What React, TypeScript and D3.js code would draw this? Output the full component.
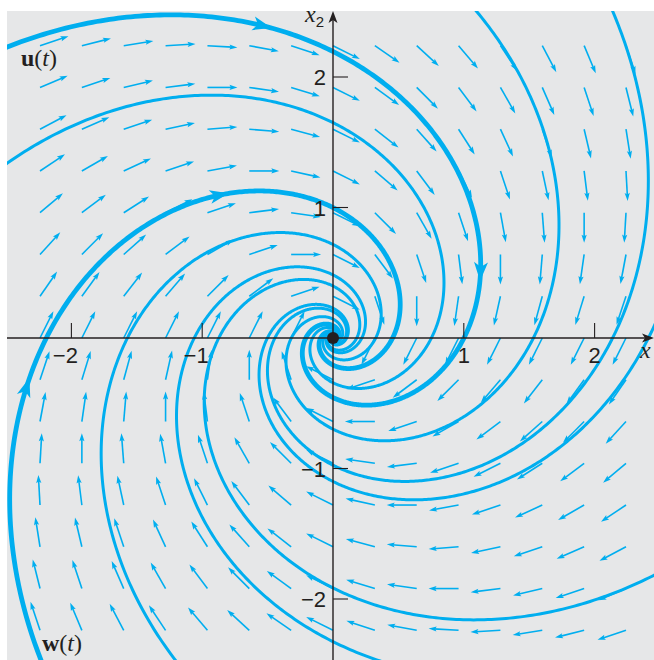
import React from "react";
import * as d3 from "d3";

const WIDTH = 654;
const HEIGHT = 660;

// linear system x' = A x  (spiral sink, clockwise)
const matrixA = [
  [-0.5, 1],
  [-1, -0.5],
];

// direction-field grid (both axes)
const fieldGrid = [-2.24, -1.92, -1.6, -1.28, -0.96, -0.64, -0.32, 0, 0.32, 0.64, 0.96, 1.28, 1.6, 1.92, 2.24];

// trajectories: initial points where they enter the window
const trajectoryNames = ["u", "t2", "w", "t4", "t5", "t5b", "t6", "t7", "t8"];
const trajectoryStartX1 = [-2.49, -2.49, -2.23, 1.1, 2.14, 2.45, 2.45, 0.36, -1.2];
const trajectoryStartX2 = [2.23, 1.34, -2.475, 2.5, 2.5, 0.08, -1.82, -2.475, -2.475];
const trajectoryBold = [true, false, true, false, false, false, false, false, false];

// arrowheads placed on the labelled trajectories (nearest point to these data positions)
const arrowTrajectory = ["u", "u", "w", "w"];
const arrowNearX1 = [-0.52, 1.12, -2.33, -0.86];
const arrowNearX2 = [2.4, 0.5, -0.38, 1.11];

const xTicks = [-2, -1, 1, 2];
const yTicks = [-2, -1, 1, 2];
const tickText = ["\u22122", "\u22121", "1", "2"];

const CYAN = "#00aeef";
const INK = "#231f20";

const xScale = d3.scaleLinear().domain([-2.5, 2.5]).range([6, 660]);
const yScale = d3.scaleLinear().domain([-2.5, 2.5]).range([664.25, 11.75]);

const lam = matrixA[0][0];
const om = matrixA[0][1];

function solve(x1: number, x2: number, t: number): [number, number] {
  const e = Math.exp(lam * t);
  const c = Math.cos(om * t);
  const s = Math.sin(om * t);
  return [e * (c * x1 + s * x2), e * (-s * x1 + c * x2)];
}

function field(x1: number, x2: number): [number, number] {
  return [matrixA[0][0] * x1 + matrixA[0][1] * x2, matrixA[1][0] * x1 + matrixA[1][1] * x2];
}

const tValues = d3.range(-0.3, 16, 0.01);

function trajectoryPoints(i: number): [number, number][] {
  return tValues.map((t) => solve(trajectoryStartX1[i], trajectoryStartX2[i], t));
}

const line = d3
  .line<[number, number]>()
  .x((d) => xScale(d[0]))
  .y((d) => yScale(d[1]))
  .curve(d3.curveLinear);

function arrowPath(tipX: number, tipY: number, dx: number, dy: number, len: number, half: number, notch: number) {
  const px = -dy;
  const py = dx;
  const bx = tipX - dx * len;
  const by = tipY - dy * len;
  const nx = tipX - dx * (len - notch);
  const ny = tipY - dy * (len - notch);
  return `M${tipX},${tipY}L${bx + px * half},${by + py * half}L${nx},${ny}L${bx - px * half},${by - py * half}Z`;
}

export default function App() {
  const fieldArrows: JSX.Element[] = [];
  const L = 30;
  fieldGrid.forEach((gx, i) =>
    fieldGrid.forEach((gy, j) => {
      if (gx === 0 && gy === 0) return;
      const [vx, vy] = field(gx, gy);
      let dx = vx;
      let dy = -vy;
      const n = Math.hypot(dx, dy);
      dx /= n;
      dy /= n;
      const x0 = xScale(gx);
      const y0 = yScale(gy);
      const tx = x0 + dx * L;
      const ty = y0 + dy * L;
      fieldArrows.push(
        <g key={`f${i}-${j}`}>
          <line x1={x0} y1={y0} x2={tx - dx * 5} y2={ty - dy * 5} stroke={CYAN} strokeWidth={1.6} />
          <path d={arrowPath(tx, ty, dx, dy, 8, 2.6, 1.5)} fill={CYAN} />
        </g>
      );
    })
  );

  const trajPts = trajectoryNames.map((_, i) => trajectoryPoints(i));

  const trajArrows = arrowTrajectory.map((name, k) => {
    const i = trajectoryNames.indexOf(name);
    const pts = trajPts[i];
    let best = 0;
    let bestD = Infinity;
    pts.forEach((p, idx) => {
      const d = Math.hypot(p[0] - arrowNearX1[k], p[1] - arrowNearX2[k]);
      if (d < bestD) {
        bestD = d;
        best = idx;
      }
    });
    const p = pts[best];
    const q = pts[Math.min(best + 1, pts.length - 1)];
    let dx = xScale(q[0]) - xScale(p[0]);
    let dy = yScale(q[1]) - yScale(p[1]);
    const n = Math.hypot(dx, dy);
    dx /= n;
    dy /= n;
    const tipX = xScale(p[0]) + dx * 9;
    const tipY = yScale(p[1]) + dy * 9;
    return <path key={`ta${k}`} d={arrowPath(tipX, tipY, dx, dy, 19, 7, 5)} fill={CYAN} />;
  });

  const x0 = xScale(0);
  const y0 = yScale(0);

  return (
    <svg
      width={WIDTH}
      height={HEIGHT}
      style={{ position: "absolute", left: 0, top: 0, display: "block" }}
      xmlns="http://www.w3.org/2000/svg"
    >
      <defs>
        <clipPath id="plotClip">
          <rect x={7} y={11} width={647} height={649} />
        </clipPath>
      </defs>
      <rect x={0} y={0} width={WIDTH} height={HEIGHT} fill="#ffffff" />
      <rect x={7} y={11} width={647} height={649} fill="#e6e7e8" />
      <g clipPath="url(#plotClip)">
        {fieldArrows}
        {trajPts.map((pts, i) => (
          <path
            key={`t${i}`}
            d={line(pts) || ""}
            fill="none"
            stroke={CYAN}
            strokeWidth={trajectoryBold[i] ? 4.8 : 3}
            strokeLinejoin="round"
            strokeLinecap="round"
          />
        ))}
        {trajArrows}
      </g>
      {/* axes */}
      <line x1={7} y1={y0} x2={646} y2={y0} stroke={INK} strokeWidth={1.4} />
      <path d={`M654,${y0}L642,${y0 - 4.5}L645,${y0}L642,${y0 + 4.5}Z`} fill={INK} />
      <line x1={x0} y1={660} x2={x0} y2={20} stroke={INK} strokeWidth={1.4} />
      <path d={`M${x0},11L${x0 - 4.5},23L${x0},20L${x0 + 4.5},23Z`} fill={INK} />
      {xTicks.map((v) => (
        <line key={`xt${v}`} x1={xScale(v)} x2={xScale(v)} y1={y0} y2={y0 - 15} stroke={INK} strokeWidth={1.1} />
      ))}
      {yTicks.map((v) => (
        <line key={`yt${v}`} x1={x0} x2={x0 + 15} y1={yScale(v)} y2={yScale(v)} stroke={INK} strokeWidth={1.1} />
      ))}
      <g fontFamily="'Liberation Sans', Arial, sans-serif" fontSize={22} fill={INK}>
        {xTicks.map((v, i) => (
          <text key={`xl${v}`} x={v < 0 ? xScale(v) + 6.5 : xScale(v)} y={y0 + 25} textAnchor={v < 0 ? "end" : "middle"}>
            {tickText[i]}
          </text>
        ))}
        {yTicks.map((v, i) => (
          <text key={`yl${v}`} x={x0 - 7} y={yScale(v) + 8} textAnchor="end">
            {tickText[i]}
          </text>
        ))}
      </g>
      <circle cx={x0} cy={y0} r={6} fill={INK} />
      {/* axis labels */}
      <text x={640} y={358} fontFamily="'Liberation Serif', 'DejaVu Serif', serif" fontStyle="italic" fontSize={24} fill={INK}>
        x
      </text>
      <text x={305} y={22} fontFamily="'Liberation Serif', 'DejaVu Serif', serif" fontStyle="italic" fontSize={24} fill={INK}>
        x
        <tspan fontFamily="'Liberation Sans', sans-serif" fontStyle="normal" fontSize={15} dy={5}>
          2
        </tspan>
      </text>
      <text x={21} y={66} fontFamily="'Liberation Serif', 'DejaVu Serif', serif" fontSize={24} fill={INK}>
        <tspan fontWeight="bold">u</tspan>(<tspan fontStyle="italic">t</tspan>)
      </text>
      <text x={42} y={651} fontFamily="'Liberation Serif', 'DejaVu Serif', serif" fontSize={24} fill={INK}>
        <tspan fontWeight="bold">w</tspan>(<tspan fontStyle="italic">t</tspan>)
      </text>
    </svg>
  );
}
